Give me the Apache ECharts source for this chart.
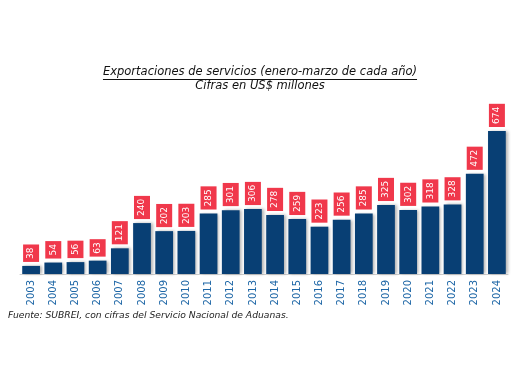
<!DOCTYPE html>
<html><head><meta charset="utf-8">
<script src="https://cdn.jsdelivr.net/npm/echarts@6/dist/echarts.min.js"></script>
<style>html,body{margin:0;padding:0;background:#fff}#c{width:520px;height:390px}</style>
</head><body><div id="c"></div>
<script>
var years = ['2003','2004','2005','2006','2007','2008','2009','2010','2011','2012','2013','2014','2015','2016','2017','2018','2019','2020','2021','2022','2023','2024'];
var values = [38,54,56,63,121,240,202,203,285,301,306,278,259,223,256,285,325,302,318,328,472,674];
var titleText = 'Exportaciones de servicios (enero-marzo de cada año)';
var subtitleText = 'Cifras en US$ millones';
var sourceText = 'Fuente: SUBREI, con cifras del Servicio Nacional de Aduanas.';

var chart = echarts.init(document.getElementById('c'));
var titleFont = 'italic 11.5px "DejaVu Sans"';
var cv = document.createElement('canvas').getContext('2d');
cv.font = titleFont;
var tw = cv.measureText(titleText).width;
chart.setOption({
  animation: false,
  grid: {left: 20, right: 12, top: 100, bottom: 116},
  xAxis: {
    type: 'category', data: years,
    axisLine: {lineStyle: {color: '#cfcfcf', width: 1}},
    axisTick: {show: false},
    axisLabel: {rotate: 90, color: '#1d66a6', fontSize: 10, fontFamily: 'DejaVu Sans', margin: 6, interval: 0}
  },
  yAxis: {type: 'value', min: 0, max: 820, show: false, splitLine: {show: false}},
  graphic: [
    {type: 'text', left: 'center', top: 66, style: {text: titleText, font: titleFont, fill: '#111'}},
    {type: 'line', shape: {x1: 260 - tw/2, y1: 79.5, x2: 260 + tw/2, y2: 79.5}, style: {stroke: '#111', lineWidth: 1}},
    {type: 'text', left: 'center', top: 80, style: {text: subtitleText, font: titleFont, fill: '#111'}},
    {type: 'text', left: 8, top: 311, style: {text: sourceText, font: 'italic 9.2px "DejaVu Sans"', fill: '#222'}}
  ],
  series: [{
    type: 'bar', data: values, barWidth: '80%',
    itemStyle: {color: '#083f74', shadowColor: 'rgba(0,0,0,0.3)', shadowBlur: 3, shadowOffsetX: 2, shadowOffsetY: 0},
    label: {
      show: true, position: 'top', rotate: 90, align: 'left', verticalAlign: 'middle', distance: 4,
      color: '#fff', fontSize: 9, fontFamily: 'DejaVu Sans',
      backgroundColor: '#f0384b', padding: [4, 3, 3, 3]
    }
  }]
});
</script></body></html>
